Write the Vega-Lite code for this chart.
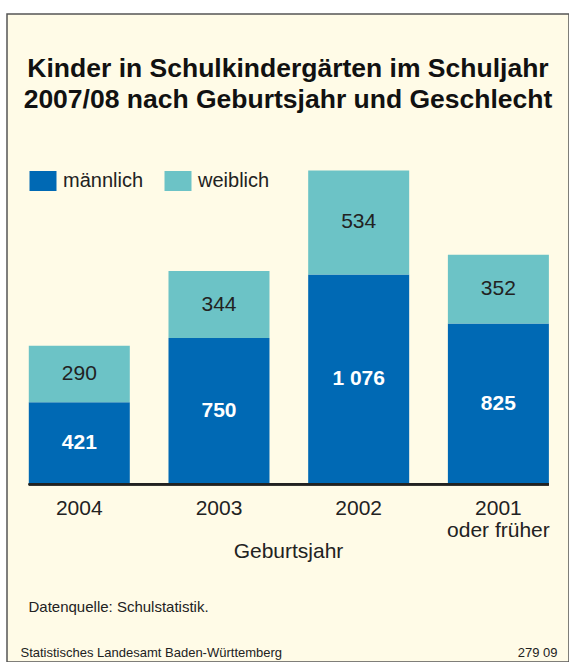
{
  "$schema": "https://vega.github.io/schema/vega-lite/v6.json",
  "width": 562,
  "height": 648,
  "autosize": {"type": "none"},
  "padding": {"left": 7, "top": 14, "right": 0, "bottom": 0},
  "background": "#ffffff",
  "title": {
    "text": ["Kinder in Schulkindergärten im Schuljahr", "2007/08 nach Geburtsjahr und Geschlecht"],
    "anchor": "middle",
    "frame": "group",
    "offset": -99,
    "fontSize": 26.5,
    "fontWeight": "bold",
    "color": "#111111",
    "lineHeight": 31
  },
  "data": {
    "values": [
      {"jahr": "2004", "geschlecht": "männlich", "anzahl": 421, "label": "421"},
      {"jahr": "2004", "geschlecht": "weiblich", "anzahl": 290, "label": "290"},
      {"jahr": "2003", "geschlecht": "männlich", "anzahl": 750, "label": "750"},
      {"jahr": "2003", "geschlecht": "weiblich", "anzahl": 344, "label": "344"},
      {"jahr": "2002", "geschlecht": "männlich", "anzahl": 1076, "label": "1 076"},
      {"jahr": "2002", "geschlecht": "weiblich", "anzahl": 534, "label": "534"},
      {"jahr": "2001 oder früher", "geschlecht": "männlich", "anzahl": 825, "label": "825"},
      {"jahr": "2001 oder früher", "geschlecht": "weiblich", "anzahl": 352, "label": "352"}
    ]
  },
  "resolve": {"axis": {"y": "independent"}},
  "layer": [
    {
      "mark": {"type": "bar"},
      "encoding": {
        "x": {
          "field": "jahr", "type": "nominal",
          "sort": ["2004", "2003", "2002", "2001 oder früher"],
          "scale": {"paddingInner": 0.277, "paddingOuter": 0.15, "align": 0.52},
          "axis": {
            "orient": "bottom", "offset": -178, "domain": false, "ticks": false, "grid": false,
            "labelAngle": 0, "labelFontSize": 21, "labelColor": "#222222", "labelPadding": 13,
            "labelLineHeight": 22,
            "labelExpr": "datum.value == '2001 oder früher' ? ['2001', 'oder früher'] : datum.value",
            "title": "Geburtsjahr", "titleFontSize": 21, "titleFontWeight": "normal",
            "titleColor": "#222222", "titlePadding": 0
          }
        },
        "y": {
          "field": "anzahl", "type": "quantitative", "stack": "zero",
          "scale": {"domain": [-911, 2412], "nice": false, "zero": false},
          "axis": {
            "orient": "left", "domain": false, "ticks": false, "labels": false, "grid": false,
            "title": "Datenquelle: Schulstatistik.", "titleAngle": 0, "titleAlign": "left",
            "titleBaseline": "alphabetic", "titleX": 21, "titleY": 597,
            "titleFontSize": 15, "titleFontWeight": "normal", "titleColor": "#222222"
          }
        },
        "color": {
          "field": "geschlecht", "type": "nominal",
          "scale": {"domain": ["männlich", "weiblich"], "range": ["#0069B4", "#6CC3C6"]},
          "legend": {
            "orient": "none", "legendX": 26, "legendY": 157, "direction": "horizontal",
            "title": null, "labelFontSize": 20, "labelColor": "#222222",
            "symbolType": "M-1.35,-1H1.35V1H-1.35Z", "symbolSize": 400,
            "symbolStrokeWidth": 0, "symbolOpacity": 1, "labelOffset": 10, "columnPadding": 20
          }
        },
        "order": {"field": "geschlecht", "sort": "ascending"}
      }
    },
    {
      "mark": {"type": "text", "fontSize": 21, "fontWeight": "bold", "fill": "#ffffff", "baseline": "middle"},
      "encoding": {
        "x": {"field": "jahr", "type": "nominal", "sort": ["2004", "2003", "2002", "2001 oder früher"]},
        "y": {
          "field": "anzahl", "type": "quantitative", "stack": "zero", "bandPosition": 0.5,
          "axis": {
            "orient": "right", "domain": false, "ticks": false, "labels": false, "grid": false,
            "title": "279 09", "titleAngle": 0, "titleAlign": "right",
            "titleBaseline": "alphabetic", "titleX": -12, "titleY": 642,
            "titleFontSize": 13, "titleFontWeight": "normal", "titleColor": "#222222"
          }
        },
        "detail": {"field": "geschlecht"},
        "order": {"field": "geschlecht", "sort": "ascending"},
        "text": {"condition": {"test": "datum.geschlecht == 'männlich'", "field": "label"}, "value": ""}
      }
    },
    {
      "mark": {"type": "text", "fontSize": 21, "fontWeight": "normal", "fill": "#222222", "baseline": "middle"},
      "encoding": {
        "x": {"field": "jahr", "type": "nominal", "sort": ["2004", "2003", "2002", "2001 oder früher"]},
        "y": {
          "field": "anzahl", "type": "quantitative", "stack": "zero", "bandPosition": 0.5,
          "axis": {
            "orient": "left", "domain": false, "ticks": false, "labels": false, "grid": false,
            "title": "Statistisches Landesamt Baden-Württemberg", "titleAngle": 0, "titleAlign": "left",
            "titleBaseline": "alphabetic", "titleX": 13, "titleY": 642,
            "titleFontSize": 13, "titleFontWeight": "normal", "titleColor": "#222222"
          }
        },
        "detail": {"field": "geschlecht"},
        "order": {"field": "geschlecht", "sort": "ascending"},
        "text": {"condition": {"test": "datum.geschlecht == 'weiblich'", "field": "label"}, "value": ""}
      }
    },
    {
      "mark": {"type": "rule", "color": "#222222", "strokeWidth": 1.6},
      "encoding": {
        "x": {"datum": "2004", "type": "nominal", "bandPosition": 0},
        "x2": {"datum": "2001 oder früher", "bandPosition": 1},
        "y": {"datum": 0, "type": "quantitative", "axis": null}
      }
    }
  ],
  "config": {
    "font": "Liberation Sans",
    "view": {"fill": "#FFFBE7", "stroke": "#555555", "strokeWidth": 1.5}
  }
}
